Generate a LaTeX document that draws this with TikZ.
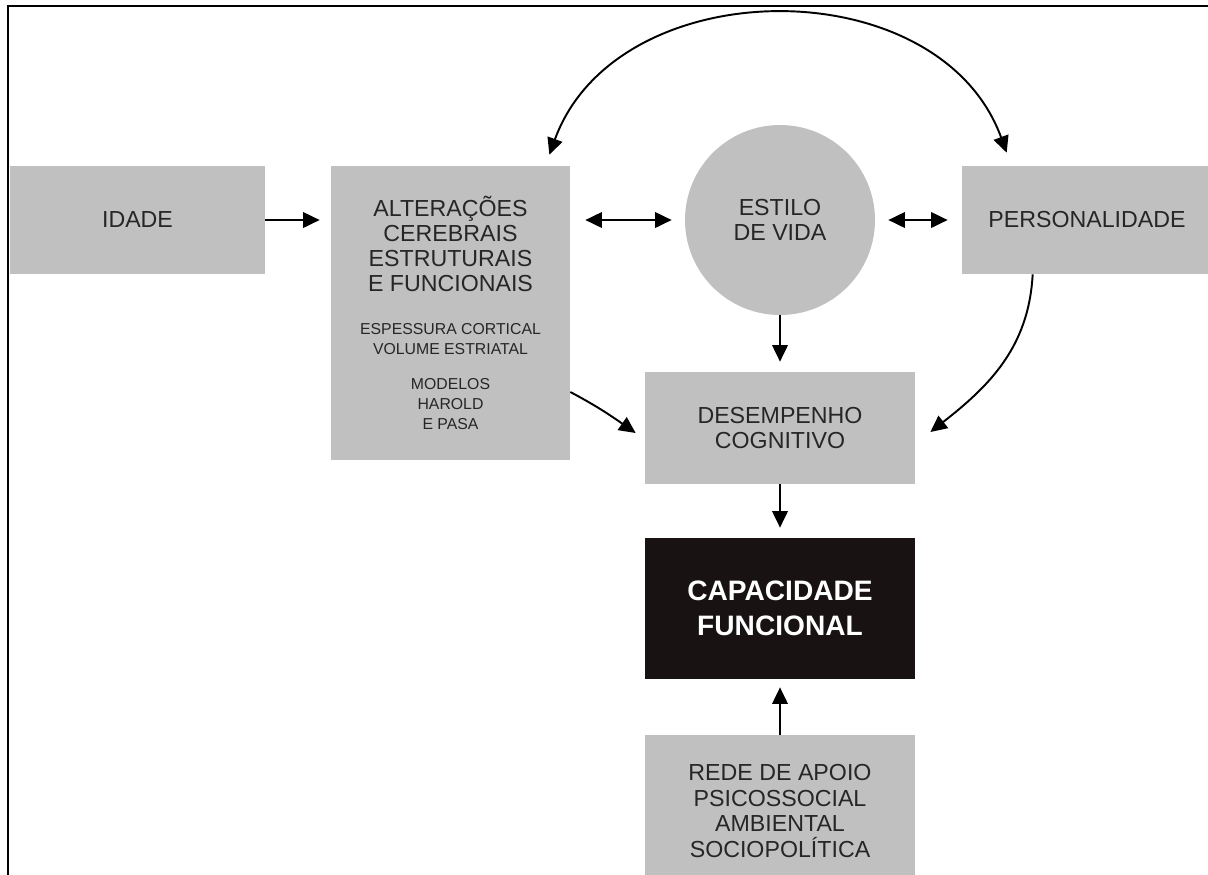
\documentclass[tikz,border=0pt]{standalone}
\usepackage{fontspec}
\setmainfont{Liberation Sans}
\usetikzlibrary{arrows.meta}
\definecolor{cinza}{RGB}{192,192,192}
\definecolor{escuro}{RGB}{24,18,18}

\begin{document}
\begin{tikzpicture}[
  caixa/.style={fill=cinza, text=black!85, align=center, inner sep=0pt, font=\fontsize{13.2}{14.2}\selectfont},
  preta/.style={fill=escuro, text=white, align=center, inner sep=0pt, font=\bfseries\fontsize{16}{19.9}\selectfont},
  seta/.style={-{Triangle[length=3.3mm,width=3.1mm]}, line width=1.1pt},
  dupla/.style={{Triangle[length=3.3mm,width=3.1mm]}-{Triangle[length=3.3mm,width=3.1mm]}, line width=1.1pt}
]
\useasboundingbox (0,0) rectangle (24.16,-17.48);
\clip (0,0) rectangle (24.16,-17.48);
\draw[line width=1.1pt] (0.16,-17.6) -- (0.16,-0.12) -- (24.3,-0.12);

\node[caixa, minimum width=5.1cm, minimum height=2.16cm] (idade) at (2.75,-4.4) {IDADE};
\node[caixa, minimum width=4.78cm, minimum height=5.88cm, text width=4.7cm, align=flush center] (alteracoes) at (9.01,-6.26) {%
  {\fontsize{13.2}{14.2}\selectfont ALTERAÇÕES\\CEREBRAIS\\ESTRUTURAIS\\E FUNCIONAIS\par}
  \vspace{13pt}
  {\fontsize{9}{11.4}\selectfont ESPESSURA CORTICAL\\VOLUME ESTRIATAL\par}
  \vspace{8.5pt}
  {\fontsize{9}{11.4}\selectfont MODELOS\\HAROLD\\E PASA\par}};
\node[caixa, circle, minimum size=3.8cm] (estilo) at (15.6,-4.4) {ESTILO\\DE VIDA};
\node[caixa, minimum width=5cm, minimum height=2.16cm] (personalidade) at (21.74,-4.4) {PERSONALIDADE};
\node[caixa, minimum width=5.4cm, minimum height=2.24cm, font=\fontsize{13.2}{13.8}\selectfont] (desempenho) at (15.6,-8.56) {DESEMPENHO\\COGNITIVO};
\node[preta, minimum width=5.4cm, minimum height=2.82cm] (capacidade) at (15.6,-12.17) {CAPACIDADE\\FUNCIONAL};
\node[caixa, minimum width=5.4cm, minimum height=3.04cm, font=\fontsize{13.2}{14.7}\selectfont] (rede) at (15.6,-16.22) {REDE DE APOIO\\PSICOSSOCIAL\\AMBIENTAL\\SOCIOPOLÍTICA};

\draw[seta, shorten >=0.22cm] (idade.east) -- (idade.east -| alteracoes.west);
\draw[dupla, shorten <=0.3cm, shorten >=0.26cm] (alteracoes.east |- estilo.west) -- (estilo.west);
\draw[dupla, shorten <=0.26cm, shorten >=0.28cm] (estilo.east) -- (personalidade.west);
\draw[seta, shorten >=0.2cm] (estilo.south) -- (desempenho.north);
\draw[seta, shorten >=0.2cm] (desempenho.south) -- (capacidade.north);
\draw[seta, shorten >=0.16cm] (rede.north) -- (capacidade.south);
\draw[seta] ([yshift=-1.58cm]alteracoes.east) to[out=-28, in=145] ([xshift=-0.18cm,yshift=-0.1cm]desempenho.west);
\draw[seta] ([xshift=1.42cm]personalidade.south west) to[out=-93, in=38] ([xshift=0.3cm,yshift=-0.08cm]desempenho.east);
\draw[dupla] ([xshift=-0.42cm,yshift=0.22cm]alteracoes.north east) to[out=70, in=110, looseness=1.1] ([xshift=0.9cm,yshift=0.26cm]personalidade.north west);
\end{tikzpicture}
\end{document}
